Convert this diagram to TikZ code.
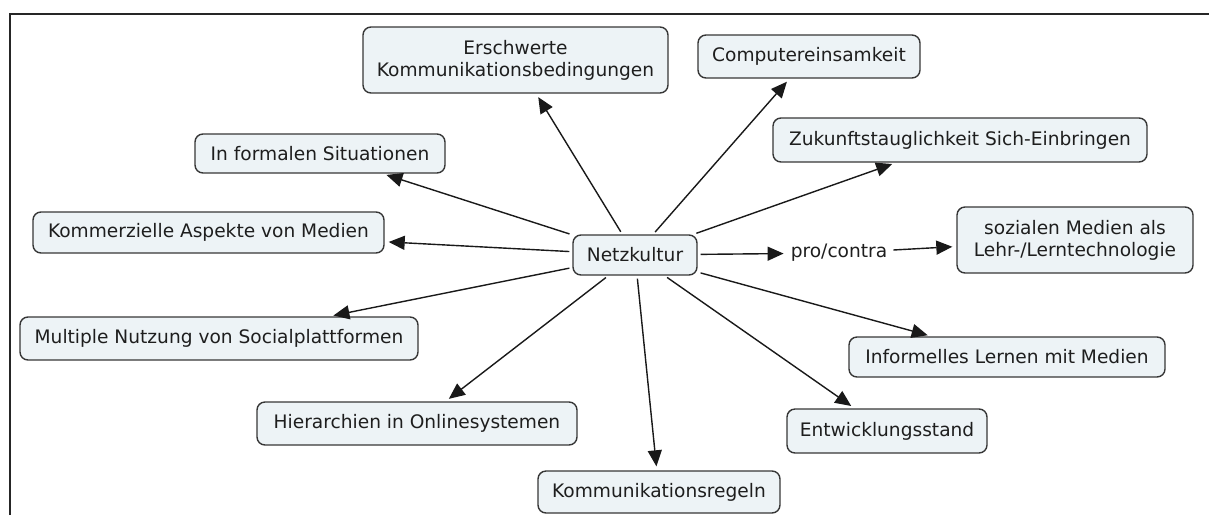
\documentclass[tikz,border=0pt]{standalone}
\usepackage{fontspec}
\setmainfont{DejaVu Sans}
\usetikzlibrary{arrows.meta}
\definecolor{boxfill}{RGB}{237,243,246}
\definecolor{boxline}{RGB}{55,55,55}
\definecolor{txt}{RGB}{30,30,30}
\tikzset{
  concept/.style={draw=boxline, line width=1.4pt, fill=boxfill, rounded corners=8pt,
    inner sep=0pt, align=center, text=txt,
    font=\fontsize{18.6}{22}\selectfont},
  linklabel/.style={inner sep=3pt, text=txt, font=\fontsize{18.6}{22}\selectfont},
  conn/.style={draw=black!90, line width=1.4pt, -{Triangle[length=16pt,width=14pt]},
    shorten <=3pt, shorten >=4pt},
  plain/.style={draw=black!90, line width=1.4pt, shorten <=3pt, shorten >=4pt}
}
\begin{document}
\begin{tikzpicture}[x=1pt,y=-1pt]
\useasboundingbox (0,0) rectangle (1209,515);
\draw[line width=1.8pt, black!85] (10,515) -- (10,14) -- (1209,14);

\node[concept, minimum width=124pt, minimum height=40pt] (netz) at (635,255) {Netzkultur};
\node[concept, minimum width=305pt, minimum height=66pt] (ersch) at (515.5,60) {Erschwerte\\Kommunikationsbedingungen};
\node[concept, minimum width=222pt, minimum height=43pt] (comp) at (809,56.5) {Computereinsamkeit};
\node[concept, minimum width=374pt, minimum height=44pt] (zuk) at (960,140) {Zukunftstauglichkeit Sich-Einbringen};
\node[concept, minimum width=236pt, minimum height=66pt] (soz) at (1075,240) {sozialen Medien als\\Lehr-/Lerntechnologie};
\node[linklabel] (pro) at (839,253) {pro/contra};
\node[concept, minimum width=316pt, minimum height=40pt] (inf) at (1007,357) {Informelles Lernen mit Medien};
\node[concept, minimum width=200pt, minimum height=44pt] (entw) at (887,431) {Entwicklungsstand};
\node[concept, minimum width=242pt, minimum height=42pt] (kreg) at (659,492) {Kommunikationsregeln};
\node[concept, minimum width=320pt, minimum height=43pt] (hier) at (417,423.5) {Hierarchien in Onlinesystemen};
\node[concept, minimum width=398pt, minimum height=43pt] (mult) at (219,338.5) {Multiple Nutzung von Socialplattformen};
\node[concept, minimum width=351pt, minimum height=41pt] (komm) at (208.5,232.5) {Kommerzielle Aspekte von Medien};
\node[concept, minimum width=250pt, minimum height=39pt] (form) at (320,153.5) {In formalen Situationen};

\foreach \t in {ersch,comp,zuk,inf,entw,kreg,hier,mult,komm,form}
  \draw[conn] (netz) -- (\t);
\draw[conn] (netz) -- (pro);
\draw[conn] (pro) -- (soz);
\end{tikzpicture}
\end{document}
